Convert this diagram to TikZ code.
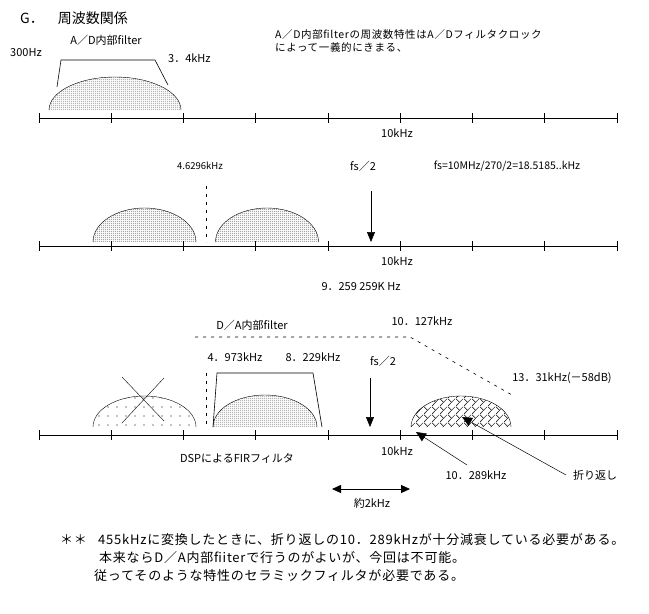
\documentclass[tikz,border=0pt]{standalone}
\usepackage{fontspec}
\setmainfont{Noto Sans CJK JP}
\newfontfamily\spacedfont[LetterSpace=6]{Noto Sans CJK JP}
\usetikzlibrary{arrows.meta, patterns, patterns.meta}

% fill patterns for the spectra
\tikzdeclarepattern{
  name=finedots,
  bottom left={(-1.1pt,-1.1pt)}, top right={(1.1pt,1.1pt)},
  tile size={(2.2pt,2.2pt)},
  code={\fill (0,0) circle (0.52pt);}
}
\tikzdeclarepattern{
  name=sparsedots,
  bottom left={(-4.5pt,-4.5pt)}, top right={(4.5pt,4.5pt)},
  tile size={(9pt,9pt)},
  code={\fill (0,0) circle (0.65pt);}
}
\tikzdeclarepattern{
  name=brickhatch,
  bottom left={(0pt,0pt)}, top right={(8pt,8pt)},
  tile size={(8pt,8pt)},
  code={
    \draw[line width=0.45pt] (0,0) -- (8pt,8pt);
    \draw[line width=0.45pt] (0,8pt) -- (4pt,4pt);
  }
}

\begin{document}
\begin{tikzpicture}[
  x=1pt, y=-1pt,
  lbl/.style={font=\fontsize{11}{13}\selectfont, inner sep=0pt},
  small/.style={font=\fontsize{9.5}{11}\selectfont, inner sep=0pt},
  note/.style={font=\spacedfont\fontsize{13}{15}\selectfont, inner sep=0pt, anchor=west},
  axisline/.style={line width=0.9pt},
  dome/.style={line width=0.4pt},
  arr/.style={-{Triangle[length=10pt, width=8pt]}, line width=0.6pt},
  thinarr/.style={-{Triangle[length=10pt, width=9pt]}, line width=0.5pt},
  dualarr/.style={{Triangle[length=9pt, width=8pt]}-{Triangle[length=9pt, width=8pt]}, line width=0.9pt},
  dashline/.style={dash pattern=on 3pt off 5pt, line width=0.6pt}
]
\useasboundingbox (0,0) rectangle (649,614);

% === Axes ===
\foreach \ay in {118,246,435} {
  \draw[axisline] (39,\ay) -- (617,\ay);
  \foreach \tx in {0,...,8}
    \draw[axisline] (39+72.25*\tx,\ay-5) -- (39+72.25*\tx,\ay+5);
}

% === A/D section ===
\node[font=\fontsize{14}{16}\selectfont, inner sep=0pt, anchor=west] (title) at (20,18) {G．\hspace{14pt}周波数関係};
\node[lbl] (adf) at (106,40) {A／D内部filter};
\node[lbl] (lo300) at (26,53) {300Hz};
\node[lbl, anchor=west] (hi34) at (168,58) {3．4kHz};
\node[font=\spacedfont\fontsize{10.5}{13.5}\selectfont, inner sep=0pt, anchor=north west, align=left] (adnote) at (275,29)
  {A／D内部filterの周波数特性はA／Dフィルタクロック\\によって一義的にきまる、};

\draw[line width=0.6pt] (57,87) -- (61,60) -- (155,60) -- (168,85);
\fill[pattern=finedots] (49,110) arc[start angle=180, end angle=360, x radius=66, y radius=33] -- cycle;
\draw[dome] (49,110) arc[start angle=180, end angle=360, x radius=66, y radius=33];
\node[lbl] (k10a) at (397,133) {10kHz};

% === Sampling section ===
\node[small] (k46) at (200,166) {4.6296kHz};
\node[lbl] (fsa) at (363,166) {fs／2};
\node[font=\fontsize{10.5}{12}\selectfont, inner sep=0pt] (fsval) at (507,166) {fs=10MHz/270/2=18.5185..kHz};
\draw[dashline] (206,186) -- (206,242);
\foreach \cx in {144.5,267} {
  \fill[pattern=finedots] (\cx-51.5,242) arc[start angle=180, end angle=360, x radius=51.5, y radius=34] -- cycle;
  \draw[dome] (\cx-51.5,242) arc[start angle=180, end angle=360, x radius=51.5, y radius=34];
}
\coordinate (fa1) at (371,191);
\coordinate (fa2) at (371,242);
\draw[arr] (fa1) -- (fa2);
\node[lbl] (k10b) at (397,261) {10kHz};
\node[lbl] (k9259) at (361,287) {9．259 259K Hz};

% === D/A section ===
\node[lbl] (daf) at (252,325) {D／A内部filter};
\node[lbl] (k10127) at (422,321) {10．127kHz};
\node[lbl] (k4973) at (235,357) {4．973kHz};
\node[lbl] (k8229) at (313,357) {8．229kHz};
\node[lbl] (fsb) at (383,361) {fs／2};
\node[lbl] (k1331) at (562,378) {13．31kHz(－58dB)};
\draw[dashline] (195,337) -- (410,337) -- (512,395);
\draw[dashline] (206,373) -- (206,427);
\draw[line width=0.6pt] (213,427) -- (217,373) -- (313,373) -- (322,427);

% removed image
\fill[pattern=sparsedots] (93,427) arc[start angle=180, end angle=360, x radius=51.5, y radius=31] -- cycle;
\draw[dome] (93,427) arc[start angle=180, end angle=360, x radius=51.5, y radius=31];
\draw[dome] (122,377) -- (164,421);
\draw[dome] (164,378) -- (122,423);
% FIR passband
\fill[pattern=finedots] (213,427) arc[start angle=180, end angle=360, x radius=52, y radius=32] -- cycle;
\draw[dome] (213,427) arc[start angle=180, end angle=360, x radius=52, y radius=32];
% folded image
\fill[pattern=brickhatch] (411,427) arc[start angle=180, end angle=360, x radius=50, y radius=31] -- cycle;
\draw[dome] (411,427) arc[start angle=180, end angle=360, x radius=50, y radius=31];

\coordinate (fb1) at (370,378);
\coordinate (fb2) at (370,427);
\draw[arr] (fb1) -- (fb2);
\node[lbl] (k10c) at (397,451) {10kHz};
\node[lbl] (dsp) at (237,458) {DSPによるFIRフィルタ};

\node[lbl] (k10289) at (476,475) {10．289kHz};
\node[lbl, anchor=west] (fold) at (573,475) {折り返し};
\coordinate (s10289) at (467,465);
\coordinate (t10289) at (416,432);
\coordinate (sfold) at (566,475);
\coordinate (tfold) at (462,417);
\draw[thinarr] (s10289) -- (t10289);
\draw[thinarr] (sfold) -- (tfold);

\coordinate (bw1) at (332,489);
\coordinate (bw2) at (410,489);
\draw[dualarr] (bw1) -- (bw2);
\node[lbl] (bw) at (372,503) {約2kHz};

% === Remarks ===
\node[note] (stars) at (60,540) {＊＊};
\node[note] (rem1) at (98,540) {455kHzに変換したときに、折り返しの10．289kHzが十分減衰している必要がある。};
\node[note] (rem2) at (99,558) {本来ならD／A内部fiiterで行うのがよいが、今回は不可能。};
\node[note] (rem3) at (94,576) {従ってそのような特性のセラミックフィルタが必要である。};
\end{tikzpicture}
\end{document}
